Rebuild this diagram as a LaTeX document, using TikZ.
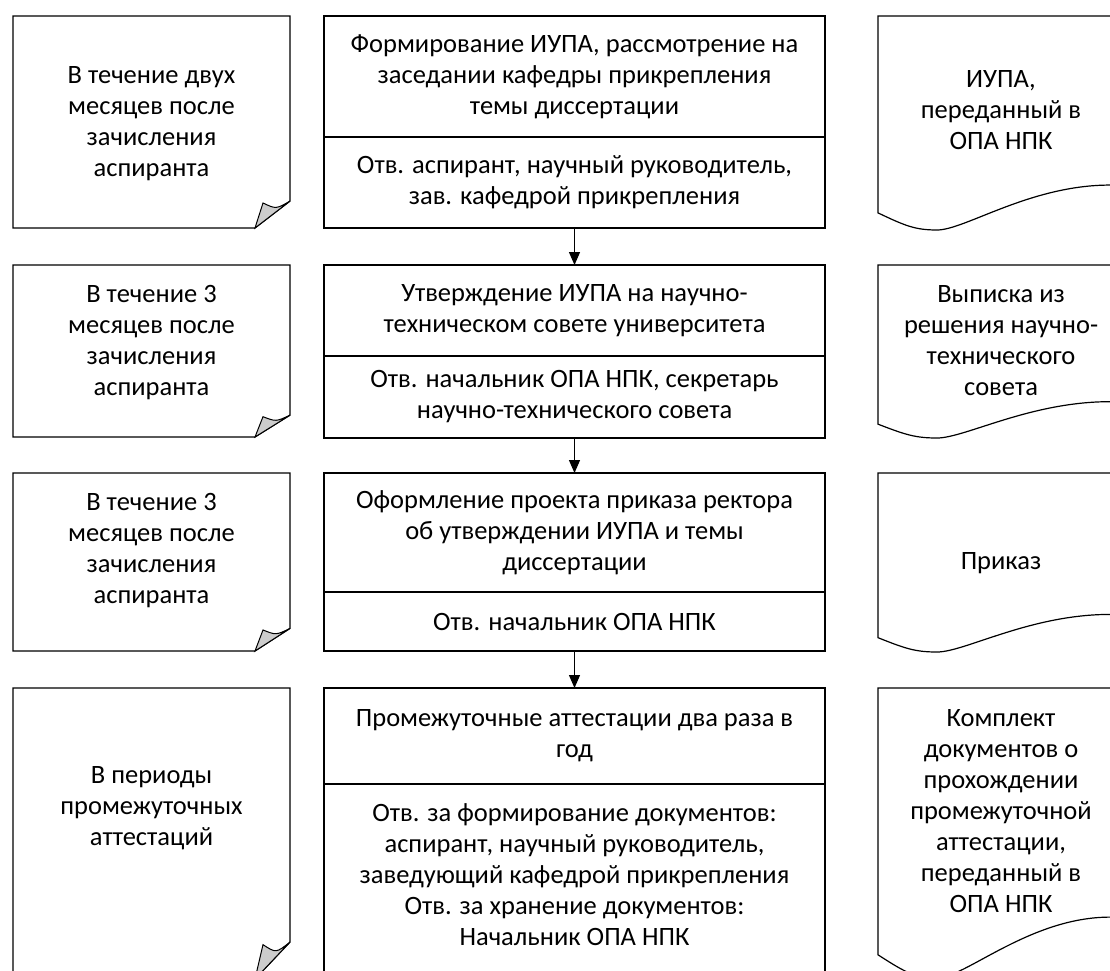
\documentclass[tikz,border=0pt]{standalone}
\usepackage{fontspec}
\setmainfont{Carlito}
\usetikzlibrary{positioning,arrows.meta}
\tikzset{
  txt/.style={font=\fontsize{26.5}{31}\selectfont, align=center, inner sep=0pt},
  stepbox/.style={txt, draw, line width=1.2pt, minimum width=501pt, outer sep=0pt},
  notebox/.style={draw, line width=1.2pt, fill=white},
  flap/.style={draw, line width=1pt, fill=black!20},
  docbox/.style={draw, line width=1.2pt},
  flow/.style={-{Triangle[length=13pt,width=11pt]}, line width=1.2pt}
}
\begin{document}
\begin{tikzpicture}[x=1pt,y=-1pt, node distance=36pt]
  \useasboundingbox (0,0) rectangle (1110,970);
  \clip (0,0) rectangle (1110,970);
  % left: terms
  \foreach \t/\b in {16/228,265/437,473/651,688/979}{
    \pgfmathsetmacro\fh{0.127*(\b-\t)}
    \draw[notebox] (13,\t) -- (290,\t) -- (290,{\b-\fh}) -- (255,\b) -- (13,\b) -- cycle;
    \draw[flap] (255,\b) -- (263,{\b-0.93*\fh}) .. controls (276,{\b-0.7*\fh}) .. (290,{\b-\fh}) -- cycle;
  }
  \node[txt] (t1) at (151.5,124) {В течение двух\\месяцев после\\зачисления\\аспиранта};
  \node[txt] (t2) at (151.5,343) {В течение 3\\месяцев после\\зачисления\\аспиранта};
  \node[txt] (t3) at (151.5,551) {В течение 3\\месяцев после\\зачисления\\аспиранта};
  \node[txt] (t4) at (151.5,808) {В периоды\\промежуточных\\аттестаций};
  % right: documents
  \foreach \t/\b in {16/230,265/438,473/652,688/978}{
    \pgfmathsetmacro\h{\b-\t}
    \draw[docbox] (1125,{\b-0.21*\h}) -- (1125,\t) -- (878,\t) -- (878,{\b-0.08*\h})
      .. controls (905,{\b-0.02*\h}) and (915,\b) .. (937,\b)
      .. controls (965,\b) and (1030,{\b-0.21*\h}) .. (1110,{\b-0.21*\h}) -- cycle;
  }
  \node[txt] (d1) at (1001,110) {ИУПА,\\переданный в\\ОПА НПК};
  \node[txt] (d2) at (1001,341) {Выписка из\\решения научно-\\технического\\совета};
  \node[txt] (d3) at (1001,563) {Приказ};
  \node[txt] (d4) at (1001,811) {Комплект\\документов о\\прохождении\\промежуточной\\аттестации,\\переданный в\\ОПА НПК};
  % middle: steps
  \node[stepbox, minimum height=121pt] (s1t) at (574.5,76.5) {Формирование ИУПА, рассмотрение на\\заседании кафедры прикрепления\\темы диссертации};
  \node[stepbox, minimum height=91pt, below=0pt of s1t] (s1b) {Отв. аспирант, научный руководитель,\\зав. кафедрой прикрепления};
  \node[stepbox, minimum height=91pt, below=37pt of s1b] (s2t) {Утверждение ИУПА на научно-\\техническом совете университета};
  \node[stepbox, minimum height=82pt, below=0pt of s2t] (s2b) {Отв. начальник ОПА НПК, секретарь\\научно-технического совета};
  \node[stepbox, minimum height=119pt, below=35pt of s2b] (s3t) {Оформление проекта приказа ректора\\об утверждении ИУПА и темы\\диссертации};
  \node[stepbox, minimum height=59pt, below=0pt of s3t] (s3b) {Отв. начальник ОПА НПК};
  \node[stepbox, minimum height=96pt, below=37pt of s3b] (s4t) {Промежуточные аттестации два раза в\\год};
  \node[stepbox, minimum height=194pt, below=0pt of s4t] (s4b) {Отв. за формирование документов:\\аспирант, научный руководитель,\\заведующий кафедрой прикрепления\\Отв. за хранение документов:\\Начальник ОПА НПК\\[-18pt]};
  \draw[flow] (s1b) -- (s2t);
  \draw[flow] (s2b) -- (s3t);
  \draw[flow] (s3b) -- (s4t);
\end{tikzpicture}
\end{document}
